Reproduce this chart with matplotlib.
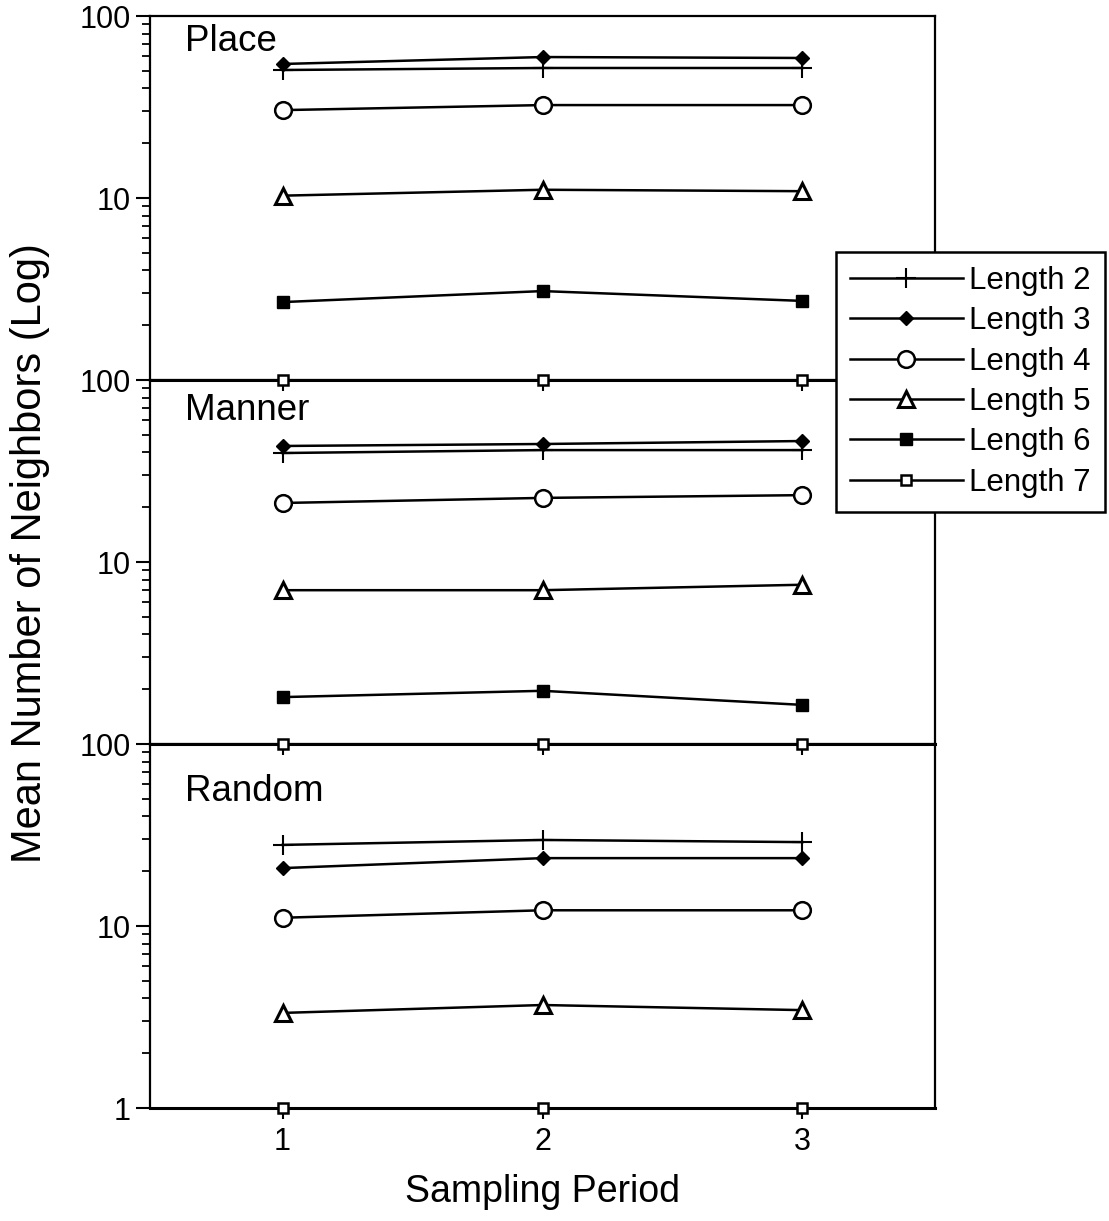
import numpy as np
import matplotlib.pyplot as plt
from matplotlib.ticker import LogLocator, NullFormatter, FixedLocator

plt.rcParams["font.family"] = ["Liberation Sans", "DejaVu Sans"]

periods = [1, 2, 3]
labels = ["Length 2", "Length 3", "Length 4", "Length 5", "Length 6", "Length 7"]

place = {
    "Length 2": [50.5, 51.8, 51.8],
    "Length 3": [54.5, 59.5, 58.8],
    "Length 4": [30.4, 32.4, 32.4],
    "Length 5": [10.3, 11.1, 10.9],
    "Length 6": [2.68, 3.08, 2.72],
    "Length 7": [1.0, 1.0, 1.0],
}
manner = {
    "Length 2": [39.7, 41.2, 41.2],
    "Length 3": [43.4, 44.5, 46.2],
    "Length 4": [21.1, 22.5, 23.3],
    "Length 5": [7.0, 7.0, 7.5],
    "Length 6": [1.81, 1.96, 1.64],
    "Length 7": [1.0, 1.0, 1.0],
}
random_ = {
    "Length 2": [27.9, 29.7, 28.9],
    "Length 3": [20.8, 23.6, 23.6],
    "Length 4": [11.1, 12.2, 12.2],
    "Length 5": [3.33, 3.68, 3.45],
    "Length 7": [1.0, 1.0, 1.0],
}
panels = [("Place", place), ("Manner", manner), ("Random", random_)]

styles = {
    "Length 2": dict(marker="+", ms=14, mew=1.5, mfc="black"),
    "Length 3": dict(marker="D", ms=7, mfc="black"),
    "Length 4": dict(marker="o", ms=12, mfc="white", mew=1.8),
    "Length 5": dict(marker="^", ms=12, mfc="white", mew=2.2),
    "Length 6": dict(marker="s", ms=8, mfc="black"),
    "Length 7": dict(marker="s", ms=6.5, mfc="white", mew=1.8),
}

fig = plt.figure(figsize=(11.09, 12.21), dpi=100)
left, right = 150 / 1109, 935 / 1109
tops = [16, 380, 744]
ph = 364

handles = {}
for i, (name, data) in enumerate(panels):
    top = tops[i]
    ax = fig.add_axes([left, 1 - (top + ph) / 1221, right - left, ph / 1221])
    ax.patch.set_alpha(0)
    ax.set_zorder(10 - i)
    for lab in labels:
        if lab not in data:
            continue
        (ln,) = ax.plot(periods, data[lab], color="black", lw=1.8,
                        mec="black", clip_on=False, zorder=3, **styles[lab])
        handles[lab] = ln
    ax.set_yscale("log")
    ax.set_ylim(1, 100)
    ax.set_xlim(0.49, 3.51)
    ax.xaxis.set_major_locator(FixedLocator(periods))
    if i < 2:
        ax.yaxis.set_major_locator(FixedLocator([10, 100]))
        ax.set_xticklabels([])
    else:
        ax.yaxis.set_major_locator(FixedLocator([1, 10, 100]))
        ax.set_xticklabels([str(p) for p in periods])
    ax.yaxis.set_major_formatter(plt.FuncFormatter(lambda v, p: f"{v:g}"))
    ax.yaxis.set_minor_locator(LogLocator(base=10, subs=np.arange(2, 10)))
    ax.yaxis.set_minor_formatter(NullFormatter())
    ax.tick_params(axis="both", which="major", direction="out", length=10,
                   width=1.5, labelsize=22, pad=4)
    ax.tick_params(axis="y", which="minor", direction="out", length=6, width=1.3)
    ax.tick_params(axis="x", which="major", length=8, pad=6)
    for sp in ax.spines.values():
        sp.set_linewidth(1.6)
    ax.spines["bottom"].set_linewidth(2.2)
    ax.text(0.045, [0.978, 0.963, 0.918][i], name, transform=ax.transAxes,
            fontsize=26.5, va="top", ha="left")
    if i == 2:
        ax.set_xlabel("Sampling Period", fontsize=27, labelpad=12)

fig.text(0.027, 1 - 553 / 1221, "Mean Number of Neighbors (Log)", rotation=90,
         fontsize=30, va="center", ha="center")

leg = fig.legend([handles[l] for l in labels], labels, loc="upper left",
                 bbox_to_anchor=(836 / 1109, 1 - 252 / 1221), borderaxespad=0,
                 fontsize=22.5, handlelength=3.6, handletextpad=0.2,
                 labelspacing=0.33, borderpad=0.45, fancybox=False,
                 framealpha=1, edgecolor="black")
leg.get_frame().set_linewidth(1.8)
leg.set_zorder(20)

plt.savefig("out.png", dpi=100)
